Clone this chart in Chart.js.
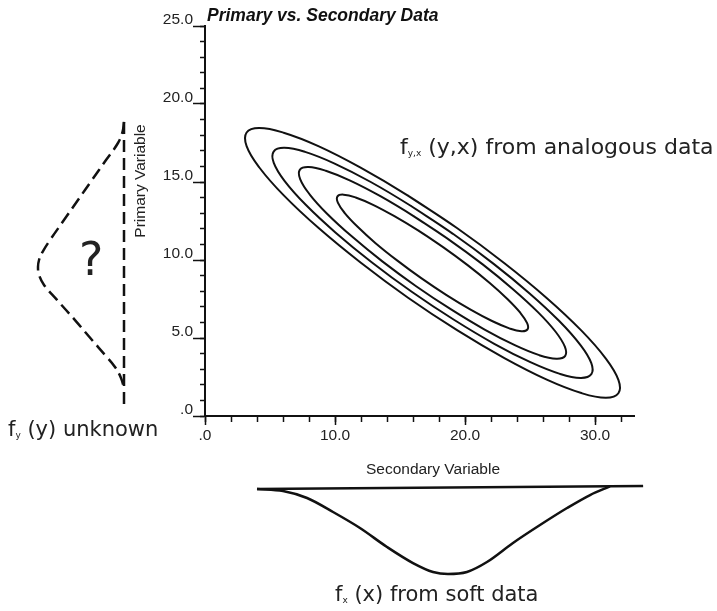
<!DOCTYPE html>
<html>
<head>
<meta charset="utf-8">
<script src="https://cdn.jsdelivr.net/npm/chart.js@4.4.1/dist/chart.umd.min.js"></script>
<style>
html,body{margin:0;padding:0;background:#fff;}
#wrap{position:relative;width:717px;height:611px;overflow:hidden;background:#fff;}
canvas{position:absolute;left:0;top:0;}
.t{position:absolute;white-space:nowrap;line-height:1;color:#1a1a1a;}
.ax{font-family:"Liberation Sans",Arial,sans-serif;font-size:15.5px;color:#222;line-height:1;}
.ann{font-family:"DejaVu Sans",sans-serif;color:#222;line-height:1;}
.sub{font-size:9px;vertical-align:-2px;}
</style>
</head>
<body>
<div id="wrap">
  <canvas id="main" width="717" height="611"></canvas>
  <canvas id="left" width="717" height="611"></canvas>
  <canvas id="bottom" width="717" height="611"></canvas>
  <div class="t" style="left:207px;top:7px;font-family:'Liberation Sans',Arial,sans-serif;font-style:italic;font-weight:bold;font-size:17.5px;line-height:1;color:#111;">Primary vs. Secondary Data</div>
  <div class="t ax" style="left:140px;top:181px;transform:translate(-50%,-50%) rotate(-90deg);">Primary Variable</div>
  <div class="t ax" style="left:433px;top:461px;transform:translateX(-50%);">Secondary Variable</div>
  <div class="t ann" style="left:400px;top:136px;font-size:22px;">f<span class="sub">y,x</span> (y,x) from analogous data</div>
  <div class="t ann" style="left:8px;top:419px;font-size:21px;">f<span class="sub">y</span> (y) unknown</div>
  <div class="t ann" style="left:335px;top:584px;font-size:21px;">f<span class="sub">x</span> (x) from soft data</div>
  <div class="t ann" style="left:79px;top:236px;font-size:46px;">?</div>
</div>
<script>
// ---- tick labels ----
const xTickValues = [0, 10, 20, 30];
const xTickLabels = ['.0', '10.0', '20.0', '30.0'];
const yTickValues = [0, 5, 10, 15, 20, 25];
const yTickLabels = ['.0', '5.0', '10.0', '15.0', '20.0', '25.0'];

// ---- contours of f_yx(y,x)  [secondary x, primary y] ----
const contourInner = [[18.34,10.81],[16.42,11.88],[14.57,12.81],[12.93,13.54],[11.59,14.01],[10.66,14.19],[10.19,14.08],[10.22,13.68],[10.75,13.01],[11.74,12.13],[13.12,11.08],[14.80,9.96],[16.66,8.82],[18.58,7.75],[20.43,6.82],[22.08,6.09],[23.41,5.62],[24.34,5.43],[24.81,5.55],[24.78,5.95],[24.25,6.62],[23.26,7.50],[21.88,8.54],[20.20,9.67]];
const contourThird = [[18.76,11.31],[16.07,12.80],[13.49,14.09],[11.17,15.09],[9.29,15.72],[7.97,15.96],[7.29,15.78],[7.32,15.19],[8.03,14.23],[9.39,12.97],[11.31,11.50],[13.64,9.91],[16.24,8.32],[18.93,6.83],[21.51,5.54],[23.83,4.54],[25.71,3.90],[27.03,3.67],[27.71,3.85],[27.68,4.44],[26.97,5.40],[25.61,6.66],[23.69,8.13],[21.36,9.72]];
const contourSecond = [[19.07,11.68],[15.85,13.46],[12.75,15.00],[9.97,16.18],[7.70,16.93],[6.10,17.19],[5.28,16.95],[5.29,16.23],[6.13,15.06],[7.75,13.54],[10.03,11.77],[12.82,9.86],[15.93,7.95],[19.15,6.17],[22.25,4.63],[25.03,3.45],[27.30,2.70],[28.90,2.44],[29.72,2.68],[29.71,3.40],[28.87,4.56],[27.25,6.09],[24.97,7.86],[22.18,9.77]];
const contourOuter = [[19.38,12.05],[15.61,14.13],[11.97,15.92],[8.72,17.30],[6.05,18.16],[4.17,18.46],[3.20,18.17],[3.20,17.30],[4.18,15.93],[6.06,14.14],[8.72,12.06],[11.99,9.82],[15.62,7.58],[19.39,5.50],[23.03,3.71],[26.29,2.33],[28.95,1.47],[30.83,1.17],[31.80,1.46],[31.80,2.32],[30.82,3.70],[28.94,5.49],[26.28,7.57],[23.01,9.81]];

// ---- f_y(y) unknown (left, dashed)  [relative density, primary y] ----
const fyCurve = [[0,18.85],[0.017,18.21],[0.070,17.50],[0.209,16.41],[0.372,15.13],[0.535,13.85],[0.698,12.56],[0.860,11.28],[0.948,10.51],[0.988,10.00],[1.0,9.55],[0.988,9.04],[0.930,8.40],[0.779,7.44],[0.570,6.15],[0.372,4.87],[0.221,3.91],[0.105,3.14],[0.035,2.44],[0,1.79]];
const fyBase = [[0,18.85],[0,0.71]];

// ---- f_x(x) from soft data (bottom)  [secondary x, relative density] ----
const fxCurve = [[4.0,0],[6.0,0.024],[7.85,0.106],[9.85,0.271],[11.92,0.459],[14.0,0.682],[16.0,0.871],[17.54,0.976],[18.69,1.0],[20.15,0.976],[21.69,0.859],[23.69,0.635],[25.77,0.424],[27.85,0.224],[29.62,0.071],[31.15,-0.03]];
const fxBase = [[4.0,0],[33.7,-0.035]];

const INK = '#111';
const pts = arr => arr.map(p => ({x: p[0], y: p[1]}));
const closeLoop = arr => arr.concat(arr.slice(0, 2));
const base = {
  animation: false, responsive: false, events: [],
  plugins: {legend: {display: false}, tooltip: {enabled: false}, title: {display: false}}
};
const tickFont = {family: "'Liberation Sans', Arial, sans-serif", size: 15.5};

// ---------- main chart ----------
new Chart(document.getElementById('main'), {
  type: 'scatter',
  data: {
    datasets: [contourOuter, contourSecond, contourThird, contourInner].map(c => ({
      data: pts(closeLoop(c)), showLine: true, borderColor: INK, borderWidth: 2,
      pointRadius: 0, tension: 0.4, fill: false
    }))
  },
  options: {
    ...base,
    layout: {padding: {left: 0, right: 83, top: 26, bottom: 0}},
    scales: {
      x: {
        type: 'linear', position: 'bottom', weight: 1, min: 0, max: 33,
        afterFit: s => { s.height = 195; },
        grid: {drawOnChartArea: false, tickLength: 9, tickWidth: 1.5, tickColor: INK},
        border: {display: true, color: INK, width: 2},
        ticks: {stepSize: 10, includeBounds: false, autoSkip: false, maxRotation: 0, padding: 1,
          color: '#222', font: tickFont,
          callback: v => { const i = xTickValues.indexOf(v); return i < 0 ? '' : xTickLabels[i]; }}
      },
      xMinor: {
        type: 'linear', position: 'bottom', weight: 0, min: 0, max: 33,
        afterFit: s => { s.height = 0; },
        grid: {drawOnChartArea: false, tickLength: 6, tickWidth: 1.5, tickColor: INK},
        border: {display: false},
        ticks: {stepSize: 2, includeBounds: false, autoSkip: false, maxRotation: 0, callback: () => ''}
      },
      y: {
        type: 'linear', position: 'left', weight: 1, min: 0, max: 25,
        afterFit: s => { s.width = 205; },
        grid: {drawOnChartArea: false, tickLength: 12, tickWidth: 1.5, tickColor: INK},
        border: {display: true, color: INK, width: 2},
        ticks: {stepSize: 5, includeBounds: false, autoSkip: false, padding: 0, labelOffset: -6,
          color: '#222', font: tickFont,
          callback: v => { const i = yTickValues.indexOf(v); return i < 0 ? '' : yTickLabels[i]; }}
      },
      yMinor: {
        type: 'linear', position: 'left', weight: 0, min: 0, max: 25,
        afterFit: s => { s.width = 0; },
        grid: {drawOnChartArea: false, tickLength: 5, tickWidth: 1.5, tickColor: INK},
        border: {display: false},
        ticks: {stepSize: 1, includeBounds: false, autoSkip: false, callback: () => ''}
      }
    }
  }
});

// ---------- left: f_y(y) ----------
new Chart(document.getElementById('left'), {
  type: 'scatter',
  data: {
    datasets: [
      {data: pts(fyCurve), showLine: true, borderColor: INK, borderWidth: 2.5, borderDash: [12, 6],
       pointRadius: 0, tension: 0.4, fill: false, clip: false},
      {data: pts(fyBase), showLine: true, borderColor: INK, borderWidth: 2.5, borderDash: [12, 6],
       pointRadius: 0, tension: 0, fill: false, clip: false}
    ]
  },
  options: {
    ...base,
    layout: {padding: {left: 38, right: 593, top: 26, bottom: 195}},
    scales: {
      x: {type: 'linear', min: 0, max: 1, reverse: true, display: false},
      y: {type: 'linear', min: 0, max: 25, display: false}
    }
  }
});

// ---------- bottom: f_x(x) ----------
new Chart(document.getElementById('bottom'), {
  type: 'scatter',
  data: {
    datasets: [
      {data: pts(fxBase), showLine: true, borderColor: INK, borderWidth: 2.5,
       pointRadius: 0, tension: 0, fill: false, clip: false},
      {data: pts(fxCurve), showLine: true, borderColor: INK, borderWidth: 2.5,
       pointRadius: 0, cubicInterpolationMode: 'monotone', fill: false, clip: false}
    ]
  },
  options: {
    ...base,
    layout: {padding: {left: 205, right: 83, top: 489, bottom: 37}},
    scales: {
      x: {type: 'linear', min: 0, max: 33, display: false},
      y: {type: 'linear', min: 0, max: 1, reverse: true, display: false}
    }
  }
});
</script>
</body>
</html>
